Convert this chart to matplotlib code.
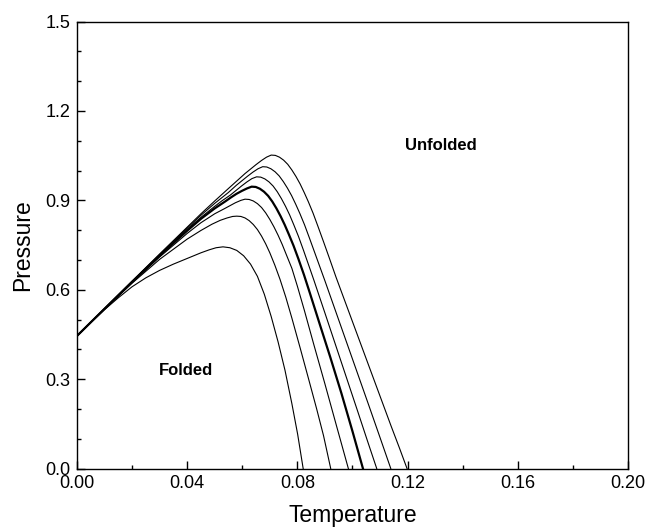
import numpy as np
import matplotlib
matplotlib.use("Agg")
import matplotlib.pyplot as plt
from matplotlib.ticker import MultipleLocator, FormatStrFormatter

plt.rcParams['font.family'] = ['Liberation Sans', 'DejaVu Sans']

# curves, lowest to highest (c4 is the thick one)
t1 = [0, 0.005, 0.01, 0.015, 0.02, 0.025, 0.03, 0.035, 0.04, 0.045, 0.048, 0.0505,
      0.053, 0.0555, 0.058, 0.0605, 0.063, 0.0655, 0.068, 0.0705, 0.073, 0.0755,
      0.078, 0.0801, 0.0821]
p1 = [0.445, 0.49, 0.533, 0.573, 0.61, 0.64, 0.665, 0.686, 0.705, 0.724, 0.734, 0.741,
      0.744, 0.741, 0.732, 0.714, 0.686, 0.645, 0.585, 0.51, 0.425, 0.33,
      0.218, 0.115, 0.0]

t2 = [0, 0.01, 0.02, 0.03, 0.04, 0.045, 0.049, 0.052, 0.0545, 0.0565, 0.058, 0.0595,
      0.061, 0.0625, 0.064, 0.0655, 0.067, 0.0685, 0.070, 0.0718, 0.0737, 0.0758,
      0.078, 0.081, 0.084, 0.087, 0.0895, 0.0921]
p2 = [0.445, 0.535, 0.622, 0.702, 0.77, 0.799, 0.82, 0.833, 0.841, 0.846, 0.847, 0.846,
      0.841, 0.832, 0.819, 0.802, 0.78, 0.754, 0.724, 0.683, 0.635, 0.575,
      0.505, 0.405, 0.303, 0.2, 0.11, 0.0]

t3 = [0, 0.01, 0.02, 0.03, 0.04, 0.045, 0.05, 0.0535, 0.0555, 0.0575, 0.0595, 0.061,
      0.0625, 0.064, 0.0655, 0.067, 0.0685, 0.070, 0.0715, 0.073, 0.0745, 0.0762,
      0.078, 0.080, 0.0825, 0.086, 0.090, 0.094, 0.0985]
p3 = [0.445, 0.535, 0.624, 0.71, 0.789, 0.825, 0.855, 0.872, 0.882, 0.892, 0.90, 0.904,
      0.903, 0.898, 0.889, 0.876, 0.858, 0.836, 0.811, 0.783, 0.752, 0.713,
      0.672, 0.612, 0.532, 0.415, 0.284, 0.15, 0.0]

t4 = [0, 0.01, 0.02, 0.03, 0.04, 0.045, 0.05, 0.0539, 0.0559, 0.0579, 0.0599, 0.0617,
      0.0634, 0.0649, 0.0664, 0.0679, 0.0694, 0.0709, 0.0724, 0.0739, 0.0754, 0.0769,
      0.0786, 0.0804, 0.0824, 0.0845, 0.088, 0.092, 0.096, 0.100, 0.1038]
p4 = [0.445, 0.536, 0.626, 0.714, 0.798, 0.838, 0.873, 0.897, 0.91, 0.922, 0.932, 0.94,
      0.946, 0.945, 0.939, 0.929, 0.915, 0.896, 0.873, 0.847, 0.818, 0.786,
      0.748, 0.703, 0.65, 0.59, 0.488, 0.372, 0.252, 0.125, 0.0]

t5 = [0, 0.01, 0.02, 0.03, 0.04, 0.045, 0.05, 0.0527, 0.0557, 0.0577, 0.0597, 0.0617,
      0.0635, 0.0652, 0.0667, 0.0682, 0.0697, 0.0712, 0.0727, 0.0742, 0.0757, 0.0772,
      0.0787, 0.0804, 0.0822, 0.0842, 0.086, 0.090, 0.094, 0.098, 0.102, 0.1055, 0.1088]
p5 = [0.445, 0.536, 0.627, 0.716, 0.803, 0.843, 0.88, 0.899, 0.918, 0.933, 0.948, 0.962,
      0.973, 0.979, 0.978, 0.972, 0.962, 0.948, 0.929, 0.906, 0.88, 0.851,
      0.818, 0.779, 0.733, 0.68, 0.632, 0.522, 0.411, 0.30, 0.189, 0.091, 0.0]

t6 = [0, 0.01, 0.02, 0.03, 0.04, 0.045, 0.05, 0.0549, 0.0579, 0.0599, 0.0619, 0.0639,
      0.0657, 0.0674, 0.0689, 0.0704, 0.0719, 0.0734, 0.0749, 0.0764, 0.0779, 0.0794,
      0.0809, 0.0826, 0.0844, 0.0864, 0.090, 0.094, 0.098, 0.102, 0.106, 0.110, 0.1139]
p6 = [0.445, 0.537, 0.628, 0.718, 0.807, 0.85, 0.89, 0.926, 0.951, 0.966, 0.981, 0.995,
      1.006, 1.013, 1.012, 1.006, 0.996, 0.982, 0.963, 0.941, 0.916, 0.887,
      0.856, 0.818, 0.773, 0.722, 0.63, 0.525, 0.42, 0.315, 0.21, 0.104, 0.0]

t7 = [0, 0.01, 0.02, 0.03, 0.04, 0.045, 0.05, 0.055, 0.058, 0.061, 0.063, 0.065, 0.067,
      0.0688, 0.0705, 0.072, 0.0735, 0.075, 0.0765, 0.078, 0.0795, 0.081, 0.0825, 0.084,
      0.0857, 0.0875, 0.0895, 0.0915, 0.094, 0.098, 0.102, 0.106, 0.110, 0.114, 0.117,
      0.1198]
p7 = [0.445, 0.537, 0.629, 0.72, 0.81, 0.855, 0.898, 0.94, 0.965, 0.99, 1.005, 1.02, 1.034,
      1.045, 1.052, 1.051, 1.045, 1.035, 1.021, 1.002, 0.98, 0.955, 0.926, 0.895,
      0.857, 0.812, 0.761, 0.709, 0.643, 0.543, 0.443, 0.343, 0.243, 0.143, 0.07,
      0.0]

curves = [(t1, p1), (t2, p2), (t3, p3), (t4, p4), (t5, p5), (t6, p6), (t7, p7)]
thick = 3

fig = plt.figure(figsize=(6.49, 5.27), dpi=100)
ax = fig.add_axes([0.1186, 0.111, 0.849, 0.848])

for i, (t, p) in enumerate(curves):
    lw = 1.6 if i == thick else 0.8
    ax.plot(t, p, color='black', linewidth=lw)

ax.text(0.1321, 1.085, 'Unfolded', fontsize=12, fontweight='bold', ha='center', va='center')
ax.text(0.0394, 0.329, 'Folded', fontsize=12, fontweight='bold', ha='center', va='center')

ax.set_xlim(0, 0.2)
ax.set_ylim(0, 1.5)
ax.xaxis.set_major_locator(MultipleLocator(0.04))
ax.xaxis.set_minor_locator(MultipleLocator(0.02))
ax.yaxis.set_major_locator(MultipleLocator(0.3))
ax.yaxis.set_minor_locator(MultipleLocator(0.1))
ax.xaxis.set_major_formatter(FormatStrFormatter('%.2f'))
ax.yaxis.set_major_formatter(FormatStrFormatter('%.1f'))
ax.tick_params(which='both', direction='in', top=False, right=False, labelsize=13, width=1)
ax.tick_params(which='major', length=6, pad=5)
ax.tick_params(which='minor', length=3)
for s in ax.spines.values():
    s.set_linewidth(1.0)

ax.set_xlabel('Temperature', fontsize=16.5, labelpad=8)
ax.set_ylabel('Pressure', fontsize=16.5, labelpad=8)

fig.savefig('out.png', dpi=100)
